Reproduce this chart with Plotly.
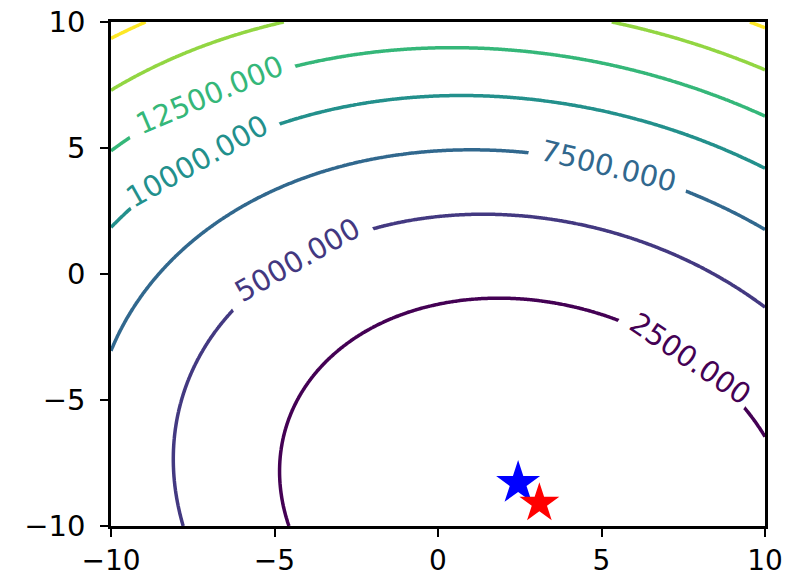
import numpy as np
import plotly.graph_objects as go
from plotly.colors import sample_colorscale

# quadratic surface: f = A(x-x0)^2 + B(y-y0)^2 + C(x-x0)(y-y0)
A, B, C = 41.5, 39.5, 11.8
x0, y0 = 3.0, -9.0
levels = [2500, 5000, 7500, 10000, 12500, 15000, 17500]
# where each inline label sits (x position along the contour), as in the reference
label_levels = [2500, 5000, 7500, 10000, 12500]
label_x = [7.6, -4.3, 5.2, -7.25, -7.0]
# which ends of each label get an extra gap in the line (none next to the frame)
gap_left = [True, True, True, False, True]
gap_right = [False, True, True, True, True]
# stars
est_x, est_y = [2.45], [-8.3]
true_x, true_y = [3.1], [-9.1]
ticks = [-10, -5, 0, 5, 10]

def f(x, y):
    dx, dy = x - x0, y - y0
    return A*dx**2 + B*dy**2 + C*dx*dy

xs = np.linspace(-10, 10, 301)
ys = np.linspace(-10, 10, 301)
X, Y = np.meshgrid(xs, ys)
Z = f(X, Y)

lo, hi = levels[0], levels[-1]
def lcolor(v):
    return sample_colorscale('Viridis', [(v - lo) / (hi - lo)])[0]

fig = go.Figure()
fig.add_trace(go.Contour(x=xs, y=ys, z=Z, colorscale='Viridis', zmin=lo, zmax=hi,
    showscale=False, line=dict(width=3.5), hoverinfo='skip',
    contours=dict(start=lo, end=hi, size=2500, coloring='lines', showlabels=False)))

# plot-area geometry (px per data unit) for label rotation
W, H = 785, 579
ml, mr, mt, mb = 111, 20, 22, 53
sx = (W - ml - mr) / 20.0
sy = (H - mt - mb) / 20.0

annotations = []
for lev, lx, gl, gr in zip(label_levels, label_x, gap_left, gap_right):
    dx = lx - x0
    # solve B dy^2 + C dx dy + A dx^2 - lev = 0 for the upper branch
    qa, qb, qc = B, C*dx, A*dx**2 - lev
    dy = (-qb + np.sqrt(qb*qb - 4*qa*qc)) / (2*qa)
    ly = y0 + dy
    fx = 2*A*dx + C*dy
    fy = 2*B*dy + C*dx
    tpx, tpy = -fy*sx, -fx*sy   # tangent in screen pixels (y down)
    ang = np.degrees(np.arctan2(tpy, tpx))
    if ang > 90: ang -= 180
    if ang <= -90: ang += 180
    txt = ('\u00a0' if gl else '') + f'{lev:.3f}' + ('\u00a0' if gr else '')
    annotations.append(dict(x=lx, y=ly, xref='x', yref='y', text=txt, showarrow=False,
        textangle=ang, bgcolor='white', borderpad=2,
        font=dict(size=29, family='DejaVu Sans', color=lcolor(lev))))

fig.add_trace(go.Scatter(x=est_x, y=est_y, mode='markers', hoverinfo='skip',
    marker=dict(symbol='star', size=33, color='blue', line=dict(width=0)), showlegend=False))
fig.add_trace(go.Scatter(x=true_x, y=true_y, mode='markers', hoverinfo='skip',
    marker=dict(symbol='star', size=30, color='red', line=dict(width=0)), showlegend=False))

ax = dict(range=[-10, 10], showline=True, mirror=True, linecolor='black', linewidth=2.5,
          ticks='outside', ticklen=8, tickwidth=2, tickcolor='black', tickvals=ticks,
          showgrid=False, zeroline=False, automargin=False,
          tickfont=dict(size=29, family='DejaVu Sans', color='black'))
fig.update_layout(width=W, height=H, margin=dict(l=ml, r=mr, t=mt, b=mb),
    plot_bgcolor='white', paper_bgcolor='white',
    xaxis=dict(ax, tickfont=dict(size=28, family='DejaVu Sans', color='black')),
    yaxis=dict(ax, ticklabelstandoff=9), annotations=annotations)
fig.write_html('out.html')
